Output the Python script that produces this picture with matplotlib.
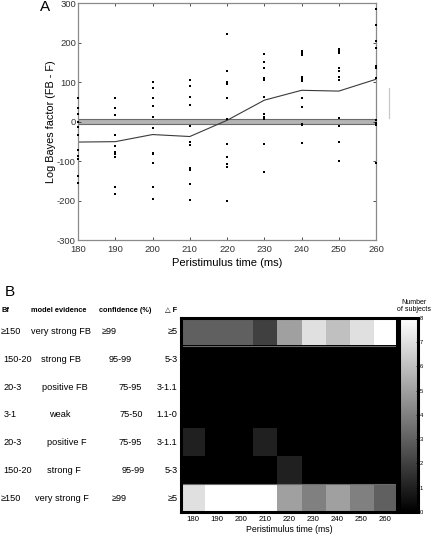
import numpy as np
import matplotlib
matplotlib.use("Agg")
import matplotlib.pyplot as plt
from matplotlib import transforms

plt.rcParams['font.family'] = ['Liberation Sans', 'DejaVu Sans']
plt.rcParams['axes.unicode_minus'] = False

# Panel A data: log Bayes factor per subject at each latency
times = [180, 190, 200, 210, 220, 230, 240, 250, 260]
subject_lbf = [
    [59, 33, 19, -2, -15, -34, -72, -87, -95, -139, -156],
    [60, 33, 16, -35, -63, -76, -78, -81, -91, -167, -183],
    [99, 85, 60, 38, 11, -17, -79, -81, -106, -167, -195],
    [104, 89, 63, 41, -12, -51, -60, -118, -123, -157, -199],
    [221, 128, 99, 94, 59, 6, -56, -89, -107, -114, -202],
    [172, 150, 136, 111, 106, 63, 20, 11, 6, -56, -128],
    [178, 174, 169, 112, 108, 102, 60, 37, -7, -9, -55],
    [183, 178, 173, 135, 128, 113, 105, 8, -12, -52, -101],
    [285, 245, 205, 186, 141, 136, 110, 4, -3, -9, -104],
]
mean_lbf = [-52, -51, -33, -38, 3, 54, 79, 77, 107]
band = [-6, 7]

# Panel B data: number of subjects per evidence category
bf_labels = ['\u2265150', '150-20', '20-3', '3-1', '20-3', '150-20', '\u2265150']
evidence_labels = ['very strong FB', 'strong FB', 'positive FB', 'weak',
                   'positive F', 'strong F', 'very strong F']
confidence_labels = ['\u226599', '95-99', '75-95', '75-50', '75-95', '95-99', '\u226599']
deltaf_labels = ['\u22655', '5-3', '3-1.1', '1.1-0', '3-1.1', '5-3', '\u22655']
counts = np.array([
    [3, 3, 3, 2, 5, 7, 6, 7, 8],
    [0, 0, 0, 0, 0, 0, 0, 0, 0],
    [0, 0, 0, 0, 0, 0, 0, 0, 0],
    [0, 0, 0, 0, 0, 0, 0, 0, 0],
    [1, 0, 0, 1, 0, 0, 0, 0, 0],
    [0, 0, 0, 0, 1, 0, 0, 0, 0],
    [7, 8, 8, 8, 5, 4, 5, 4, 3],
])

fig = plt.figure(figsize=(4.32, 5.36), dpi=100)

# ---- panel A ----
ax = fig.add_axes([0.1806, 0.5522, 0.690, 0.4422])
ax.axhspan(band[0], band[1], facecolor='#b4b4b4', edgecolor='#6a6a6a', linewidth=0.8, zorder=1)
for t, vals in zip(times, subject_lbf):
    ax.plot([t] * len(vals), vals, 's', color='black', markersize=1.6,
            markeredgewidth=0, clip_on=False, zorder=3)
ax.plot(times, mean_lbf, color='#3a3a3a', linewidth=0.8, zorder=2)
# stray grey mark to the right of the axes
ax.plot([263.5, 263.5], [10, 84], color='#c8c8c8', linewidth=0.9, clip_on=False)
ax.set_xlim(180, 260)
ax.set_ylim(-300, 300)
ax.set_xticks(times)
ax.set_yticks(range(-300, 301, 100))
ax.tick_params(direction='in', length=2.5, width=0.6, top=True, right=True,
               labelsize=6.8, colors='#333333', pad=1.5)
ax.tick_params(axis='x', pad=3.5)
for s in ax.spines.values():
    s.set_color('#8a8a8a')
    s.set_linewidth(0.9)
ax.set_xlabel('Peristimulus time (ms)', fontsize=8, labelpad=3)
ax.set_ylabel('Log Bayes factor (FB - F)', fontsize=7.8, labelpad=1)
fig.text(0.104, 0.987, 'A', fontsize=11, va='center', ha='center')

# ---- panel B ----
axh = fig.add_axes([0.419, 0.0448, 0.500, 0.362])
im = axh.imshow(counts, cmap='gray', vmin=0, vmax=8, aspect='auto',
                interpolation='nearest', extent=[175, 265, 6.5, -0.5])
axh.axhline(0.5, color='#6a6a6a', linewidth=0.8)
axh.axhline(5.5, color='#6a6a6a', linewidth=0.8)
axh.set_xticks(times)
axh.set_yticks([])
axh.tick_params(length=0, labelsize=5.6, pad=3)
for s in axh.spines.values():
    s.set_color('black')
    s.set_linewidth(2.2)
axh.set_xlabel('Peristimulus time (ms)', fontsize=6.3, labelpad=1)

cax = fig.add_axes([0.9236, 0.0448, 0.044, 0.362])
cb = fig.colorbar(im, cax=cax, ticks=range(0, 9))
cb.ax.tick_params(direction='in', length=1.5, width=0.5, labelsize=4.2, pad=1)
cb.outline.set_linewidth(2.2)
cb.outline.set_edgecolor('black')
fig.text(0.997, 0.43, 'Number\nof subjects', fontsize=5.0, ha='right', va='center',
         linespacing=1.0, multialignment='center')

fig.text(0.012, 0.455, 'B', fontsize=11, va='center', ha='left')

# table on the left, rows aligned with heatmap rows
tr = transforms.blended_transform_factory(fig.transFigure, axh.transData)
hdr_y = 0.4216
fig.text(0.003, hdr_y, 'Bf', fontsize=5.3, fontweight='bold', va='center', ha='left')
fig.text(0.137, hdr_y, 'model evidence', fontsize=5.3, fontweight='bold', va='center', ha='center')
fig.text(0.290, hdr_y, 'confidence (%)', fontsize=5.3, fontweight='bold', va='center', ha='center')
fig.text(0.410, hdr_y, '\u25b3 F', fontsize=5.3, fontweight='bold', va='center', ha='right')

bf_x = [0.002, 0.008, 0.008, 0.008, 0.008, 0.008, 0.002]
ev_x = [0.141, 0.141, 0.150, 0.139, 0.155, 0.148, 0.143]
cf_x = [0.252, 0.278, 0.301, 0.303, 0.301, 0.308, 0.275]
for i in range(len(bf_labels)):
    axh.text(bf_x[i], i, bf_labels[i], transform=tr, fontsize=6.6, va='center', ha='left')
    axh.text(ev_x[i], i, evidence_labels[i], transform=tr, fontsize=6.6, va='center', ha='center')
    axh.text(cf_x[i], i, confidence_labels[i], transform=tr, fontsize=6.6, va='center', ha='center')
    axh.text(0.411, i, deltaf_labels[i], transform=tr, fontsize=6.6, va='center', ha='right')

fig.savefig('out.png', dpi=100)
